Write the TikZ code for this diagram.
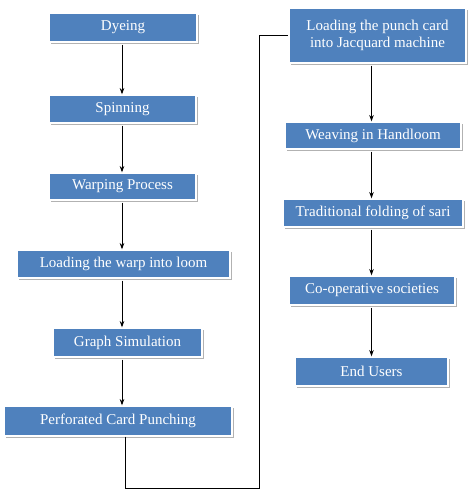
\documentclass[tikz,border=0pt]{standalone}
\usepackage{fontspec}
\setmainfont{Liberation Serif}
\usepackage{xcolor}
\usetikzlibrary{positioning, arrows.meta, shadows}
\definecolor{boxblue}{HTML}{4F81BD}

\begin{document}
\begin{tikzpicture}[
        x=1pt, y=-1pt,
        box/.style = {draw=white, line width=1.4pt, fill=boxblue, text=white, align=center,
                      inner sep=2pt, font=\fontsize{15}{16.5}\selectfont,
                      drop shadow={shadow xshift=2pt, shadow yshift=-2pt, fill=black!30, opacity=1}},
        arrow/.style = {-{Stealth[length=2.2mm, width=1.6mm]}, line width=0.9pt, shorten <=2pt},
        link/.style = {line width=0.9pt},
    ]
        \useasboundingbox (0,0) rectangle (474,499);
        % left column
        \node[box, minimum width=148pt, minimum height=29pt] (dye) at (123,27.5) {Dyeing};
        \node[box, minimum width=147pt, minimum height=28pt] (spin) at (122.5,109) {Spinning};
        \node[box, minimum width=147pt, minimum height=27pt] (warp) at (122.5,186.5) {Warping Process};
        \node[box, minimum width=213pt, minimum height=28pt] (loadw) at (123.5,264) {Loading the warp into loom};
        \node[box, minimum width=149pt, minimum height=29pt] (graph) at (127.5,342.5) {Graph Simulation};
        \node[box, minimum width=228pt, minimum height=30pt] (perf) at (118,421) {Perforated Card Punching};
        % right column
        \node[box, minimum width=177pt, minimum height=55pt] (punch) at (377.5,35.5) {Loading the punch card\\into Jacquard machine};
        \node[box, minimum width=176pt, minimum height=27pt] (weave) at (373,135.5) {Weaving in Handloom};
        \node[box, minimum width=180pt, minimum height=28pt] (fold) at (373,213) {Traditional folding of sari};
        \node[box, minimum width=166pt, minimum height=29pt] (coop) at (372,290.5) {Co-operative societies};
        \node[box, minimum width=153pt, minimum height=29pt] (user) at (371.5,371.5) {End Users};
        % route between the columns
        \coordinate (low) at (125,488);
        \coordinate (turn) at (259,488);
        \coordinate (lx) at (122,0);
        \coordinate (rx) at (371.5,0);
        \draw[arrow] (dye.south -| lx) -- (spin.north -| lx);
        \draw[arrow] (spin.south -| lx) -- (warp.north -| lx);
        \draw[arrow] (warp.south -| lx) -- (loadw.north -| lx);
        \draw[arrow] (loadw.south -| lx) -- (graph.north -| lx);
        \draw[arrow] (graph.south -| lx) -- (perf.north -| lx);
        \draw[link] (perf.south -| low) -- (low) -- (turn) |- (punch.west);
        \draw[arrow] (punch.south -| rx) -- (weave.north -| rx);
        \draw[arrow] (weave.south -| rx) -- (fold.north -| rx);
        \draw[arrow] (fold.south -| rx) -- (coop.north -| rx);
        \draw[arrow] (coop.south -| rx) -- (user.north -| rx);
    \end{tikzpicture}
\end{document}
